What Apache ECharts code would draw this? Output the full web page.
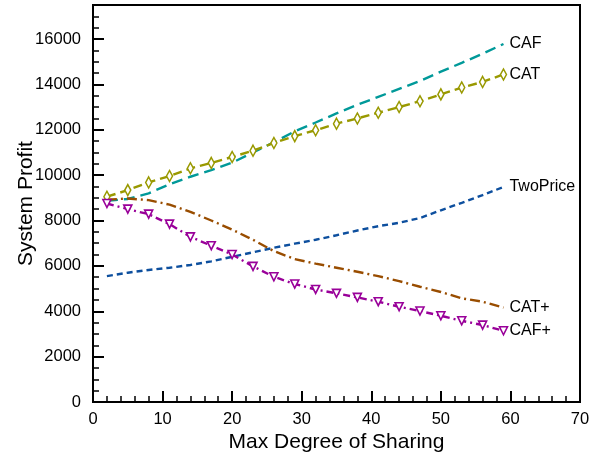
<!DOCTYPE html>
<html>
<head>
<meta charset="utf-8">
<script src="https://cdn.jsdelivr.net/npm/echarts@6/dist/echarts.min.js"></script>
<style>html,body{margin:0;padding:0;background:#fff}#c{width:602px;height:462px}</style>
</head>
<body>
<div id="c"></div>
<script>
const xValues = [2,5,8,11,14,17,20,23,26,29,32,35,38,41,44,47,50,53,56,59];
const caf = [8870,8950,9200,9600,9930,10220,10550,11000,11450,11930,12320,12720,13100,13450,13800,14150,14560,14950,15350,15780];
const cat = [9050,9340,9680,9960,10300,10540,10800,11080,11420,11720,11980,12270,12500,12750,13000,13260,13560,13860,14110,14440];
const twoPrice = [5550,5700,5820,5920,6040,6200,6400,6600,6800,6980,7150,7350,7560,7750,7900,8110,8450,8780,9120,9480];
const catPlus = [8920,8970,8900,8700,8380,8000,7600,7150,6650,6300,6100,5920,5740,5550,5330,5080,4850,4570,4420,4160];
const cafPlus = [8750,8500,8280,7840,7280,6890,6500,5980,5520,5200,4960,4790,4610,4420,4200,4010,3800,3580,3390,3140];
const xTicks = [0,10,20,30,40,50,60,70];
const yTicks = [0,2000,4000,6000,8000,10000,12000,14000,16000];

const FONT = 'Liberation Sans, Arial, Helvetica, sans-serif';
function pts(arr){ return xValues.map((x,i)=>[x,arr[i]]); }
function mk(name, arr, color, dash, symbol, symbolSize, rotate){
  return {
    name, type:'line', data: pts(arr), xAxisIndex:0, yAxisIndex:0,
    lineStyle:{color, width:2.4, type:dash},
    itemStyle:{color:'#fff', borderColor:color, borderWidth:1.6},
    symbol: symbol || 'none', symbolSize: symbolSize || 0, symbolRotate: rotate || 0,
    showSymbol: !!symbol,
    animation:false,
    endLabel:{show:true, formatter:name, color:'#000', fontSize:16, fontFamily:FONT, distance:6}
  };
}
const chart = echarts.init(document.getElementById('c'), null, {renderer:'canvas'});
chart.setOption({
  backgroundColor:'#fff',
  animation:false,
  grid:{left:93, right:22, top:5, bottom:60, outerBoundsMode:'none', containLabel:false,
    show:true, borderColor:'#000', borderWidth:2, backgroundColor:'transparent'},
  xAxis:[{
    type:'value', min:xTicks[0], max:xTicks[xTicks.length-1], interval:10,
    name:'Max Degree of Sharing', nameLocation:'middle', nameGap:30, nameMoveOverlap:false,
    nameTextStyle:{fontSize:21, fontFamily:FONT, color:'#000'},
    axisLine:{show:true, lineStyle:{color:'#000', width:2}},
    axisTick:{show:true, inside:true, length:11, lineStyle:{color:'#000', width:2}},
    minorTick:{show:true, splitNumber:5, length:6, lineStyle:{color:'#000', width:1.5}},
    axisLabel:{fontSize:16.5, fontFamily:FONT, color:'#000', margin:9},
    splitLine:{show:false}
  }],
  yAxis:[{
    type:'value', min:0, max:17500, interval:2000,
    name:'System Profit', nameLocation:'middle', nameGap:56, nameMoveOverlap:false,
    nameTextStyle:{fontSize:21, fontFamily:FONT, color:'#000'},
    axisLine:{show:true, lineStyle:{color:'#000', width:2}},
    axisTick:{show:true, inside:true, length:11, lineStyle:{color:'#000', width:2}},
    axisLabel:{fontSize:16.5, fontFamily:FONT, color:'#000', margin:12, showMaxLabel:false,
      formatter:v=> yTicks.indexOf(v)>=0 ? String(v) : ''},
    splitLine:{show:false}
  },{
    type:'value', min:0, max:17500, interval:500, position:'left',
    axisLine:{show:false},
    axisTick:{show:true, inside:true, length:6, lineStyle:{color:'#000', width:1.5}},
    axisLabel:{show:false}, splitLine:{show:false}
  }],
  series:[
    mk('CAF', caf, '#009999', [11,6]),
    mk('CAT', cat, '#999900', [9,5], 'diamond', [6,11]),
    mk('TwoPrice', twoPrice, '#0d4f9e', [6,4]),
    mk('CAT+', catPlus, '#994d00', [10,4,2,4]),
    mk('CAF+', cafPlus, '#990099', [7,4,2,4], 'triangle', 8, 180)
  ]
});
</script>
</body>
</html>
